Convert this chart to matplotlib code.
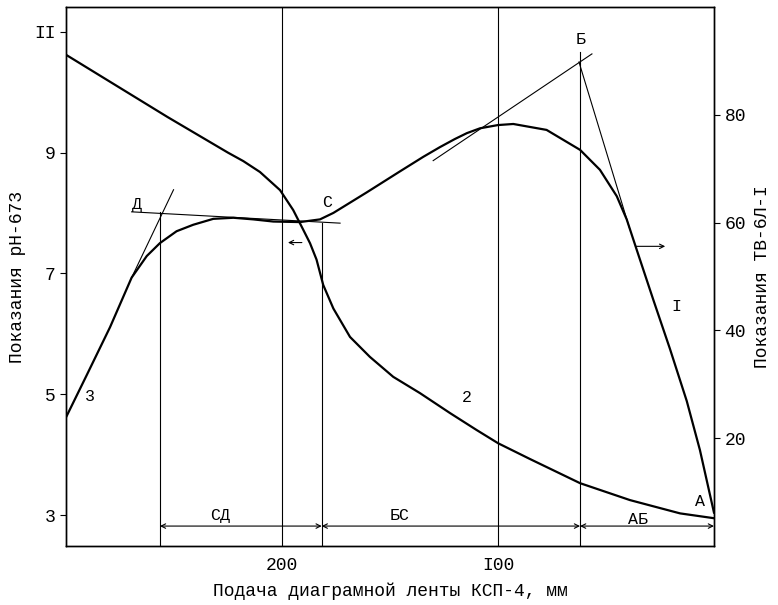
import matplotlib.pyplot as plt
import numpy as np

# feed of chart tape, mm (axis runs from 300 on the left to 0 on the right)
# curve 2 - pH-673 readings (left axis)
ph_x = [300, 253, 225, 217.9, 210.2, 200.9, 194.8, 190.1, 187, 184, 180.9, 176.2, 168.5, 159.3,
        148.5, 136.1, 122.2, 109.9, 99.9, 85.2, 62, 38.9, 15.7, 0]
ph_y = [10.62, 9.59, 9.0, 8.86, 8.68, 8.38, 8.05, 7.72, 7.50, 7.23, 6.81, 6.42, 5.95, 5.62,
        5.29, 5.02, 4.69, 4.41, 4.19, 3.93, 3.53, 3.25, 3.03, 2.95]

# curves 3 / I - TV-6L-I readings (right axis)
tv_x = [299.7, 290.4, 279.6, 269.6, 262.6, 256.5, 248.8, 241.1, 231.8, 222.5, 213.3, 204,
        191.7, 182.4, 176.2, 160.8, 145.4, 134.6, 126.9, 120, 114.4, 108.3, 100, 92.9,
        77.5, 62, 52.8, 45, 40.4, 35.8, 28.1, 20.4, 12.6, 6.5, 0]
tv_y = [24.1, 31.7, 40.6, 49.8, 53.8, 56.2, 58.4, 59.6, 60.7, 60.9, 60.6, 60.2,
        60.1, 60.6, 61.8, 65.6, 69.5, 72.2, 74.0, 75.5, 76.6, 77.5, 78.1, 78.3,
        77.2, 73.5, 69.8, 64.9, 60.6, 55.0, 45.7, 36.6, 26.9, 17.8, 6.2]

# construction points (right axis units)
pt_D = (256.5, 62.0)
pt_C = (181.6, 60.0)
pt_B = (62, 91.7)
pt_A = (0, 5.9)
tan_D = ([269.6, 250.2], [49.8, 66.1])
hline_DC = ([269.6, 173.1], [62.0, 59.9])
tan_CB = ([130, 56.5], [71.5, 91.3])
line_BA = ([62.5, 38.9], [89.8, 58.7])
grid_x = [200, 100]
zone_y = 3.7

x_ticks = [200, 100]
x_ticklabels = ["200", "I00"]
left_ticks = [11, 9, 7, 5, 3]
left_ticklabels = ["II", "9", "7", "5", "3"]
right_ticks = [20, 40, 60, 80]

mono = "Liberation Mono"
plt.rcParams["font.family"] = [mono, "DejaVu Sans"]

fig = plt.figure(figsize=(7.78, 6.05), dpi=100)
ax = fig.add_axes([0.0848, 0.0975, 0.8329, 0.8909])
ax2 = ax.twinx()

ax.set_xlim(300, 0)
ax.set_ylim(2.49, 11.41)
ax2.set_ylim(0, 100)

ax.plot(ph_x, ph_y, color="black", lw=1.6, solid_joinstyle="round")
ax2.plot(tv_x, tv_y, color="black", lw=1.6, solid_joinstyle="round")

thin = dict(color="black", lw=0.8)
for gx in grid_x:
    ax2.axvline(gx, **thin)
ax2.plot([pt_D[0], pt_D[0]], [0, pt_D[1]], **thin)
ax2.plot([pt_C[0], pt_C[0]], [0, pt_C[1]], **thin)
ax2.plot([pt_B[0], pt_B[0]], [0, pt_B[1]], **thin)
ax2.plot(*tan_D, **thin)
ax2.plot(*hline_DC, **thin)
ax2.plot(*tan_CB, **thin)
ax2.plot(*line_BA, **thin)

# zone dimension arrows
arr = dict(arrowstyle="<->", color="black", lw=0.8, shrinkA=0, shrinkB=0, mutation_scale=8)
for x0, x1 in [(pt_D[0], pt_C[0]), (pt_C[0], pt_B[0]), (pt_B[0], pt_A[0])]:
    ax2.annotate("", xy=(x0, zone_y), xytext=(x1, zone_y), arrowprops=arr)

one = dict(arrowstyle="->", color="black", lw=0.8, mutation_scale=8)
ax2.annotate("", xy=(21.3, 55.6), xytext=(37.5, 55.6), arrowprops=one)
ax2.annotate("", xy=(198.5, 56.3), xytext=(189.5, 56.3), arrowprops=one)

fs = 12
ax2.text(267, 63.3, "Д", fontsize=fs, ha="center", va="center")
ax2.text(179.2, 63.8, "C", fontsize=fs, ha="center", va="center")
ax2.text(61.6, 94.0, "Б", fontsize=fs, ha="center", va="center")
ax2.text(6.5, 8.3, "A", fontsize=fs, ha="center", va="center")
ax2.text(17.6, 44.5, "I", fontsize=fs, ha="center", va="center")
ax2.text(288.9, 27.8, "3", fontsize=fs, ha="center", va="center")
ax.text(114.4, 4.94, "2", fontsize=fs, ha="center", va="center")
ax2.text(228.7, 5.6, "СД", fontsize=fs, ha="center", va="center")
ax2.text(145.4, 5.6, "БС", fontsize=fs, ha="center", va="center")
ax2.text(35.2, 5.0, "АБ", fontsize=fs, ha="center", va="center")

ax.set_xticks(x_ticks)
ax.set_xticklabels(x_ticklabels)
ax.set_yticks(left_ticks)
ax.set_yticklabels(left_ticklabels)
ax2.set_yticks(right_ticks)
ax.tick_params(axis="x", length=0, labelsize=13, pad=8)
ax.tick_params(axis="y", length=4, labelsize=13)
ax2.tick_params(axis="y", length=4, labelsize=13)

ax.set_xlabel("Подача диаграмной ленты КСП-4, мм", fontsize=13, labelpad=6)
ax.set_ylabel("Показания рН-673", fontsize=13, labelpad=6)
ax2.set_ylabel("Показания ТВ-6Л-I", fontsize=13, labelpad=6)

for a in (ax, ax2):
    for s in a.spines.values():
        s.set_linewidth(1.0)

fig.savefig("out.png", dpi=100)
